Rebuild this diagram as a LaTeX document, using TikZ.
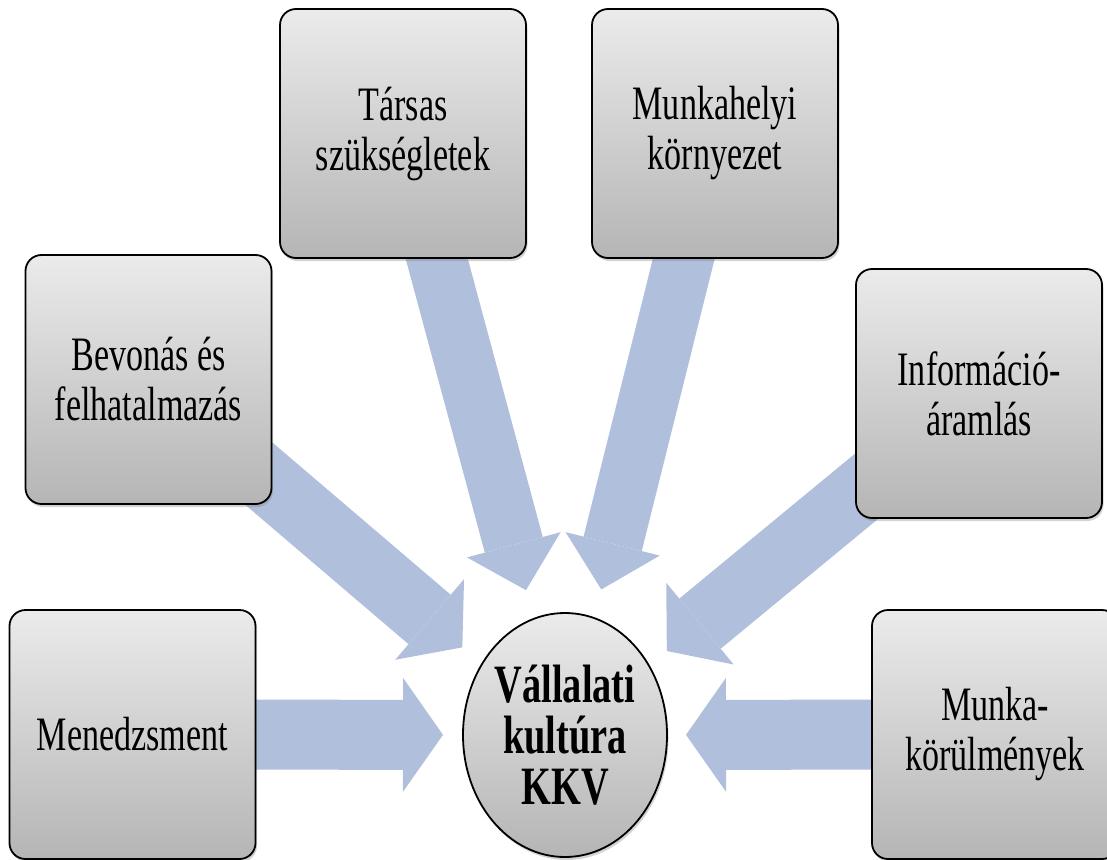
\documentclass[tikz,border=0pt]{standalone}
\usepackage{fontspec}
\setmainfont{Liberation Serif}[FakeStretch=0.71]
\usetikzlibrary{arrows.meta,shapes.geometric,shadows,backgrounds}
\definecolor{flowblue}{HTML}{B0C0DC}
\definecolor{boxtop}{HTML}{EBEBEB}
\definecolor{boxbot}{HTML}{B5B5B5}

\begin{document}
\begin{tikzpicture}[x=1pt,y=-1pt,
  box/.style={draw=black,line width=1.8pt,rounded corners=16pt,
    top color=boxtop,bottom color=boxbot,
    minimum width=246pt,minimum height=249pt,align=center,
    font=\fontsize{48}{50}\selectfont,
    drop shadow={shadow xshift=1.5pt,shadow yshift=-3pt,opacity=0.35}},
  flow/.style={draw=flowblue}]
  \clip (0,0) rectangle (1107,859);
  % outer boxes
  \node[box] (mgmt) at (132.5,734.5) {Menedzsment};
  \node[box] (bevon) at (148.5,379.5) {Bevonás és\\felhatalmazás};
  \node[box] (tars) at (403,133.5) {Társas\\szükségletek};
  \node[box] (mhely) at (715,133.5) {Munkahelyi\\környezet};
  \node[box] (info) at (979,393.5) {Információ-\\áramlás};
  \node[box] (korul) at (995,734.5) {Munka-\\körülmények};
  % centre
  \node[ellipse,draw=black,line width=1.8pt,minimum width=204pt,minimum height=244pt,
    inner sep=0pt,top color=boxtop,bottom color=boxbot,align=center,
    font=\fontsize{54}{51}\selectfont\bfseries,
    drop shadow={shadow xshift=1.5pt,shadow yshift=-3pt,opacity=0.35}]
    (kkv) at (565,735) {Vállalati\\kultúra\\KKV};
  % block arrows
  \begin{scope}[on background layer]
    \foreach \src/\w/\hw/\hl/\gap in {mgmt/70/114/40/122,korul/70/114/40/121,
        bevon/65/106/43/135,info/65/106/43/132,tars/60/97/47/150,mhely/60/97/47/150}
      \draw[flow,line width=\w pt,-{Triangle[width=\hw pt,length=\hl pt,line width=0pt]},
        shorten >=\gap pt] (\src.center) -- (kkv.center);
  \end{scope}
\end{tikzpicture}
\end{document}
